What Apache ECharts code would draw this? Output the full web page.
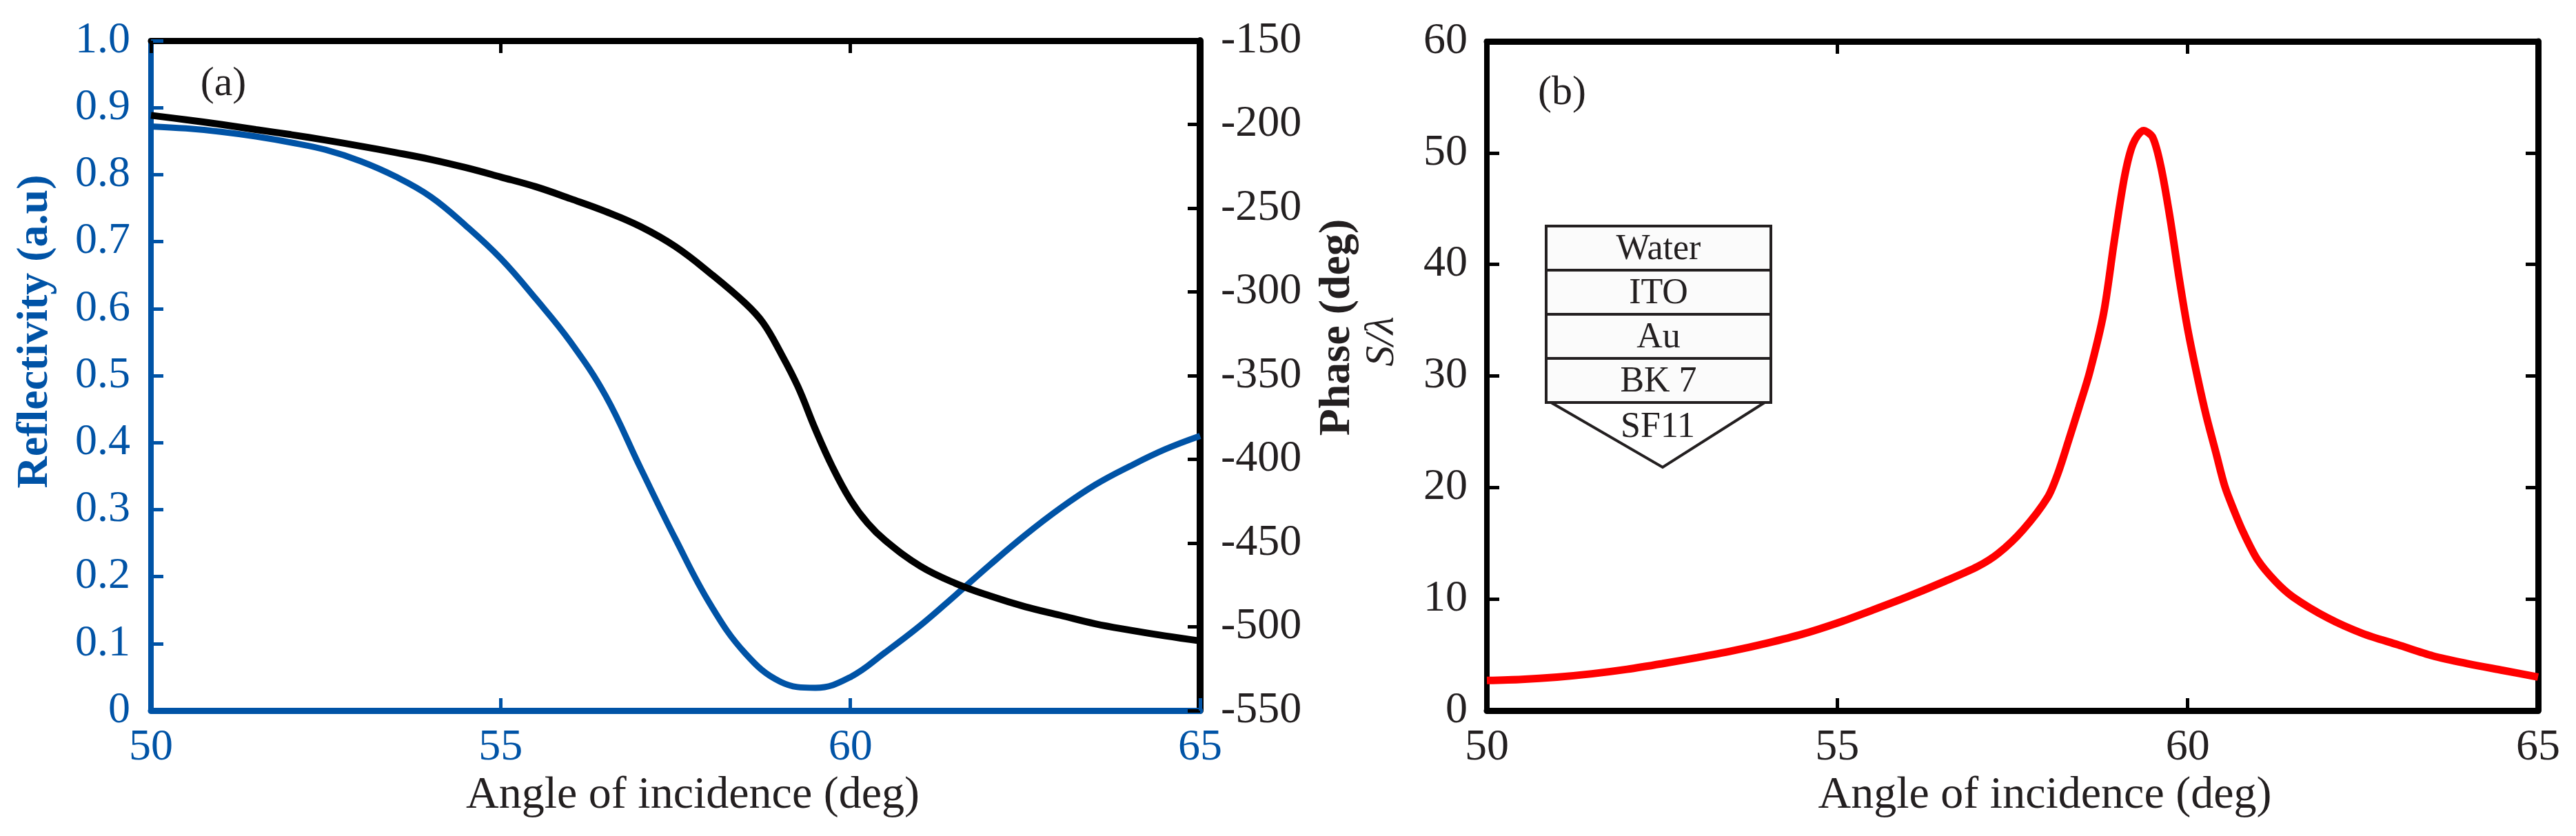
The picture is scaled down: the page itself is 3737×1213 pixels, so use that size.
<!DOCTYPE html>
<html>
<head>
<meta charset="utf-8">
<title>SPR reflectivity, phase and sensitivity</title>
<script src="https://cdn.jsdelivr.net/npm/echarts@6/dist/echarts.min.js"></script>
<style>
	html, body { margin: 0; padding: 0; background: #fff; }
	#chart { width: 3737px; height: 1213px; }
</style>
</head>
<body>
<div id="chart"></div>
<script>
// angle of incidence (deg) for panel (a)
var reflAngles = [50, 50.5, 51, 51.5, 52, 52.5, 53, 53.5, 54, 54.5, 55, 55.5, 56, 56.5, 57, 57.5,
	58, 58.5, 59, 59.5, 60, 60.5, 61, 61.5, 62, 62.5, 63, 63.5, 64, 64.5, 65];
var reflectivity = [0.872, 0.869, 0.864, 0.857, 0.848, 0.837, 0.820, 0.797, 0.767, 0.724, 0.675, 0.615, 0.550, 0.470, 0.362, 0.256,
	0.158, 0.085, 0.043, 0.034, 0.050, 0.087, 0.127, 0.172, 0.218, 0.262, 0.302, 0.337, 0.365, 0.390, 0.410];

var phaseAngles = [50, 50.5, 51, 51.5, 52, 52.5, 53, 53.5, 54, 54.5, 55, 55.5, 56, 56.5, 57, 57.5,
	58, 58.5, 58.75, 59, 59.25, 59.5, 59.75, 60, 60.25, 60.5, 61, 61.5, 62, 62.5, 63, 63.5, 64, 64.5, 65];
var phase = [-194.6, -197.2, -200.0, -203.1, -206.1, -209.4, -213.0, -216.8, -220.9, -225.8, -231.4, -237.2, -244.4, -252.0, -261.0, -273.0,
	-289.0, -306.9, -318.4, -336.2, -356.6, -382.1, -405.1, -424.2, -438.3, -448.5, -463.8, -474.0, -481.6, -488.0, -493.1, -498.2, -502.0, -505.4, -508.4];

// panel (b): S/lambda
var sensAngles = [50, 50.5, 51, 51.5, 52, 52.5, 53, 53.5, 54, 54.5, 55, 55.5, 56, 56.5, 57, 57.3, 57.65,
	58, 58.15, 58.3, 58.45, 58.6, 58.8, 58.95, 59.1, 59.22, 59.37, 59.5, 59.62, 59.75, 59.88,
	60, 60.15, 60.27, 60.4, 60.53, 60.67, 60.8, 61, 61.25, 61.5, 62, 62.5, 63, 63.5, 64, 64.5, 65];
var sensitivity = [2.7, 2.8, 3.0, 3.3, 3.7, 4.2, 4.75, 5.35, 6.05, 6.85, 7.85, 9.0, 10.2, 11.5, 12.9, 14.1, 16.2,
	19.1, 21.3, 24.2, 27.2, 30.3, 35.6, 42.0, 47.9, 50.8, 52.0, 51.4, 48.7, 44.1, 38.7,
	34.2, 29.6, 26.3, 23.2, 20.1, 17.8, 15.9, 13.5, 11.6, 10.2, 8.3, 6.9, 5.9, 4.9, 4.2, 3.6, 3.0];

var layers = ['Water', 'ITO', 'Au', 'BK 7'];
var substrate = 'SF11';

var FONT = 'Liberation Serif, Times New Roman, serif';
var BLUE = '#0053a6';
var INK = '#231f20';

function pairs(xs, ys) {
	var out = [];
	for (var i = 0; i < xs.length; i++) {
		out.push([xs[i], ys[i]]);
	}
	return out;
}

// plain framing axis (top / right), ticks only
function frameAxis(gridIndex, position, color, min, max, interval) {
	return {
		gridIndex : gridIndex,
		type : 'value',
		position : position,
		min : min, max : max, interval : interval,
		axisLine : { show : true, onZero : false, lineStyle : { color : color, width : 9 } },
		axisTick : { show : true, inside : true, length : 18, lineStyle : { color : color, width : 5 } },
		axisLabel : { show : false },
		splitLine : { show : false }
	};
}

var myChart = echarts.init(document.getElementById('chart'));

// inset layer stack
var insetLeft = 2243, insetRight = 2569, insetTop = 328, rowH = 64;
var graphics = [];
for (var i = 0; i < layers.length; i++) {
	graphics.push({
		type : 'rect',
		shape : { x : insetLeft, y : insetTop + i * rowH, width : insetRight - insetLeft, height : rowH },
		style : { fill : '#fbfbfb', stroke : INK, lineWidth : 4 }
	});
	graphics.push({
		type : 'text',
		x : (insetLeft + insetRight) / 2, y : insetTop + i * rowH + rowH / 2 + 2,
		style : { text : layers[i], font : '52px ' + FONT, fill : INK, align : 'center', verticalAlign : 'middle' }
	});
}
var prismTop = insetTop + layers.length * rowH;
graphics.push({
	type : 'polyline',
	shape : { points : [[insetLeft + 7, prismTop], [2412, 678], [insetRight - 9, prismTop]] },
	style : { stroke : INK, lineWidth : 4, fill : null }
});
graphics.push({
	type : 'text',
	x : 2405, y : prismTop + 36,
	style : { text : substrate, font : '52px ' + FONT, fill : INK, align : 'center', verticalAlign : 'middle' }
});
graphics.push({
	type : 'text', x : 324, y : 122,
	style : { text : '(a)', font : '60px ' + FONT, fill : INK, align : 'center', verticalAlign : 'middle' }
});
graphics.push({
	type : 'text', x : 2266, y : 135,
	style : { text : '(b)', font : '60px ' + FONT, fill : INK, align : 'center', verticalAlign : 'middle' }
});

var option = {
	backgroundColor : '#ffffff',
	animation : false,
	textStyle : { fontFamily : FONT },
	grid : [
		{ left : 219, right : 1996, top : 59, bottom : 182 },
		{ left : 2157, right : 55, top : 60, bottom : 182 }
	],
	xAxis : [
		{
			gridIndex : 0, type : 'value', position : 'bottom',
			min : 50, max : 65, interval : 5,
			axisLine : { show : true, onZero : false, lineStyle : { color : BLUE, width : 9 } },
			axisTick : { show : true, inside : true, length : 18, lineStyle : { color : BLUE, width : 5 } },
			axisLabel : { color : BLUE, fontSize : 64, fontFamily : FONT, margin : 22 },
			splitLine : { show : false },
			name : 'Angle of incidence (deg)', nameLocation : 'middle', nameGap : 84,
			nameTextStyle : { color : INK, fontSize : 66, fontFamily : FONT, padding : [0, 0, 0, 50] }
		},
		frameAxis(0, 'top', '#000', 50, 65, 5),
		{
			gridIndex : 1, type : 'value', position : 'bottom',
			min : 50, max : 65, interval : 5,
			axisLine : { show : true, onZero : false, lineStyle : { color : '#000', width : 9 } },
			axisTick : { show : true, inside : true, length : 18, lineStyle : { color : '#000', width : 5 } },
			axisLabel : { color : INK, fontSize : 64, fontFamily : FONT, margin : 22 },
			splitLine : { show : false },
			name : 'Angle of incidence (deg)', nameLocation : 'middle', nameGap : 84,
			nameTextStyle : { color : INK, fontSize : 66, fontFamily : FONT, padding : [0, 0, 0, 94] }
		},
		frameAxis(1, 'top', '#000', 50, 65, 5)
	],
	yAxis : [
		{
			gridIndex : 0, type : 'value', position : 'left',
			min : 0, max : 1, interval : 0.1,
			axisLine : { show : true, onZero : false, lineStyle : { color : BLUE, width : 8 } },
			axisTick : { show : true, inside : true, length : 18, lineStyle : { color : BLUE, width : 5 } },
			axisLabel : {
				color : BLUE, fontSize : 64, fontFamily : FONT, margin : 30,
				formatter : function (v) { return v === 0 ? '0' : v.toFixed(1); }
			},
			splitLine : { show : false },
			name : 'Reflectivity (a.u)', nameLocation : 'middle', nameGap : 136, nameRotate : 90,
			nameTextStyle : { color : BLUE, fontSize : 64, fontWeight : 'bold', fontFamily : FONT, padding : [0, 0, 0, 128] }
		},
		{
			gridIndex : 0, type : 'value', position : 'right',
			min : -550, max : -150, interval : 50,
			axisLine : { show : true, onZero : false, lineStyle : { color : '#000', width : 10 } },
			axisTick : { show : true, inside : true, length : 18, lineStyle : { color : '#000', width : 5 } },
			axisLabel : { color : INK, fontSize : 64, fontFamily : FONT, margin : 30 },
			splitLine : { show : false },
			name : 'Phase (deg)', nameLocation : 'middle', nameGap : 167, nameRotate : 90,
			nameTextStyle : { color : INK, fontSize : 64, fontWeight : 'bold', fontFamily : FONT, padding : [0, 0, 0, 140] }
		},
		{
			gridIndex : 1, type : 'value', position : 'left',
			min : 0, max : 60, interval : 10,
			axisLine : { show : true, onZero : false, lineStyle : { color : '#000', width : 8 } },
			axisTick : { show : true, inside : true, length : 18, lineStyle : { color : '#000', width : 5 } },
			axisLabel : { color : INK, fontSize : 64, fontFamily : FONT, margin : 28 },
			splitLine : { show : false },
			name : 'S/\u03bb', nameLocation : 'middle', nameGap : 122, nameRotate : 90,
			nameTextStyle : { color : INK, fontSize : 60, fontStyle : 'italic', fontFamily : FONT, padding : [0, 0, 0, 100] }
		},
		frameAxis(1, 'right', '#000', 0, 60, 10)
	],
	series : [
		{
			name : 'Reflectivity', type : 'line', xAxisIndex : 0, yAxisIndex : 0,
			data : pairs(reflAngles, reflectivity),
			showSymbol : false, smooth : 0.4,
			lineStyle : { color : BLUE, width : 9 }
		},
		{
			name : 'Phase', type : 'line', xAxisIndex : 0, yAxisIndex : 1,
			data : pairs(phaseAngles, phase),
			showSymbol : false, smooth : 0.4,
			lineStyle : { color : '#000', width : 10 }
		},
		{
			name : 'S/lambda', type : 'line', xAxisIndex : 2, yAxisIndex : 2,
			data : pairs(sensAngles, sensitivity),
			showSymbol : false, smooth : 0.3,
			lineStyle : { color : '#ff0000', width : 11 }
		}
	],
	graphic : graphics
};
myChart.setOption(option);
</script>
</body>
</html>
